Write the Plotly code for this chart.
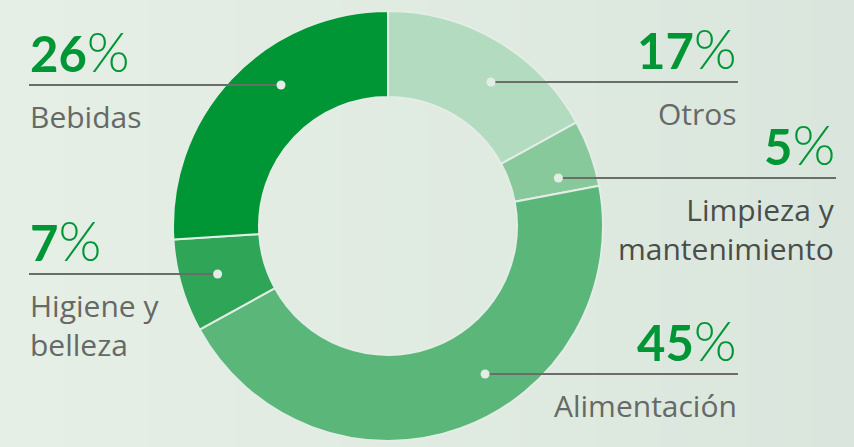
import math
import plotly.graph_objects as go

# ---- data ----
categories = ["Otros", "Limpieza y<br>mantenimiento", "Alimentación", "Higiene y<br>belleza", "Bebidas"]
values = [17, 5, 45, 7, 26]
slice_colors = ["#b3dbbf", "#88c99c", "#5bb779", "#2fa657", "#009535"]

# ---- layout (pixel space 854x447) ----
W, H = 854, 447
CX, CY, R_OUT, HOLE = 388, 226, 215, 0.6
R_MID = 177
side = ["right", "right", "right", "left", "left"]
line_y = [82, 178, 374, 274, 85]
line_end = [738, 836, 738, 29, 29]
label_color = ["#666966", "#4a4e4a", "#666966", "#666966", "#666966"]

fig = go.Figure()
fig.add_trace(go.Pie(
    values=values, labels=categories, sort=False, direction="clockwise", rotation=0,
    hole=HOLE, textinfo="none", hoverinfo="skip",
    marker=dict(colors=slice_colors, line=dict(color="#e3ede5", width=2)),
    domain=dict(x=[(CX - R_OUT) / W, (CX + R_OUT) / W],
                y=[(H - CY - R_OUT) / H, (H - CY + R_OUT) / H]),
    showlegend=False,
))
# invisible pixel axis for overlays
fig.add_trace(go.Scatter(x=[0, W], y=[0, H], mode="markers", marker=dict(opacity=0),
                         hoverinfo="skip", showlegend=False))

shapes = []
# background gradient
N = 40
c0 = (0xe6, 0xef, 0xe5)
c1 = (0xda, 0xe6, 0xdd)
for i in range(N):
    t = i / (N - 1)
    col = "rgb(%d,%d,%d)" % tuple(round(a + (b - a) * t) for a, b in zip(c0, c1))
    shapes.append(dict(type="rect", xref="x", yref="y", x0=W * i / N, x1=W * (i + 1) / N + 1,
                       y0=0, y1=H, fillcolor=col, line=dict(width=0), layer="below"))

annotations = []
for cat, v, s, ly, le, lc in zip(categories, values, side, line_y, line_end, label_color):
    dy = ly - CY
    dx = math.sqrt(max(R_MID ** 2 - dy ** 2, 0))
    dot_x = CX + dx if s == "right" else CX - dx
    shapes.append(dict(type="line", xref="x", yref="y", x0=dot_x, x1=le, y0=ly, y1=ly,
                       line=dict(color="#6a6d6a", width=2.2), layer="above"))
    shapes.append(dict(type="circle", xref="x", yref="y", x0=dot_x - 4.5, x1=dot_x + 4.5,
                       y0=ly - 4.5, y1=ly + 4.5, fillcolor="#e3ede5",
                       line=dict(width=0), layer="above"))
    anchor = "right" if s == "right" else "left"
    tx = le
    annotations.append(dict(xref="x", yref="y", x=tx, y=ly, xanchor=anchor, yanchor="bottom",
                            text=f"<b>{v}</b><span style='font-weight:300;font-size:55px'>%</span>",
                            showarrow=False, borderpad=0,
                            font=dict(family="Lato, sans-serif", size=49, color="#009535"),
                            align=anchor))
    annotations.append(dict(xref="x", yref="y", x=tx, y=ly + 10, xanchor=anchor, yanchor="top",
                            text=cat, showarrow=False, borderpad=0,
                            font=dict(family="Open Sans, sans-serif", size=30, color=lc),
                            align=anchor))

fig.update_layout(
    width=W, height=H, margin=dict(l=0, r=0, t=0, b=0),
    paper_bgcolor="#e1ece3", plot_bgcolor="rgba(0,0,0,0)",
    xaxis=dict(range=[0, W], visible=False, fixedrange=True),
    yaxis=dict(range=[H, 0], visible=False, fixedrange=True),
    shapes=shapes, annotations=annotations,
)
fig.write_html("out.html", config={"displayModeBar": False},
               post_script="document.body.style.margin='0';document.body.style.background='#e1ece3';")
